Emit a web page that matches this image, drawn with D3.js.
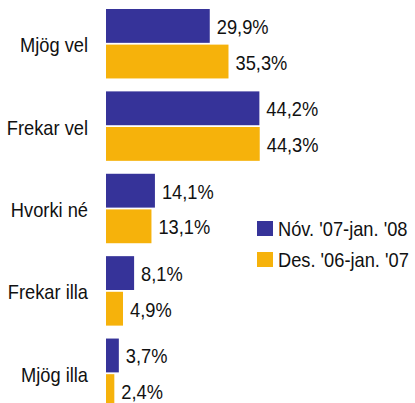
<!DOCTYPE html>
<html>
<head>
<meta charset="utf-8">
<script src="https://cdn.jsdelivr.net/npm/d3@7"></script>
<style>
	html, body { margin: 0; padding: 0; background: #FFFFFF; }
	#vis_container { width: 415px; height: 403px; overflow: hidden; }
	text { font-family: "Liberation Sans", Arial, sans-serif; fill: #111111; }
</style>
</head>
<body>
<div id="vis_container"></div>
<script>
	// categories, top to bottom
	var categories = ["Mjög vel", "Frekar vel", "Hvorki né", "Frekar illa", "Mjög illa"];
	var seriesNames = ["Nóv. '07-jan. '08", "Des. '06-jan. '07"];
	var seriesColors = ["#363399", "#F6B20B"];
	var values2008 = [29.9, 44.2, 14.1, 8.1, 3.7];
	var values2007 = [35.3, 44.3, 13.1, 4.9, 2.4];

	var chart = {};
	chart.width = 415;
	chart.height = 403;
	chart.textScale = 0.87;
	chart.fontSize = 21;

	var locale = d3.formatLocale({decimal: ",", thousands: ".", grouping: [3], currency: ["", " kr"]});
	var fmt = locale.format(".1f");

	chart.svg = d3.select("#vis_container").append("svg")
		.attr("width", chart.width)
		.attr("height", chart.height);

	chart.xScale = d3.scaleLinear()
		.domain([0, 50])
		.range([106, 106 + 50 * 3.47]);

	chart.yScale = d3.scaleBand()
		.domain(categories)
		.range([9, 408])
		.paddingInner(0.157)
		.paddingOuter(0);

	chart.innerScale = d3.scaleBand()
		.domain([0, 1])
		.range([0, chart.yScale.bandwidth()])
		.paddingInner(0.05);

	var rows = categories.map(function(c, i) {
		return {cat: c, vals: [values2008[i], values2007[i]]};
	});

	var group = chart.svg.selectAll(".group")
		.data(rows)
		.enter().append("g")
		.attr("class", "group")
		.attr("transform", function(d) { return "translate(0," + chart.yScale(d.cat) + ")"; });

	group.append("text")
		.attr("text-anchor", "end")
		.style("font-size", chart.fontSize + "px")
		.attr("transform", "translate(88," + (chart.yScale.bandwidth() / 2 + 8.5) + ") scale(" + chart.textScale + ",1)")
		.text(function(d) { return d.cat; });

	var bar = group.selectAll(".bar")
		.data(function(d) { return d.vals.map(function(v, j) { return {v: v, j: j}; }); })
		.enter().append("g")
		.attr("class", "bar");

	bar.append("rect")
		.attr("x", chart.xScale(0))
		.attr("y", function(d) { return chart.innerScale(d.j); })
		.attr("width", function(d) { return chart.xScale(d.v) - chart.xScale(0); })
		.attr("height", chart.innerScale.bandwidth())
		.attr("fill", function(d) { return seriesColors[d.j]; });

	bar.append("text")
		.style("font-size", chart.fontSize + "px")
		.attr("transform", function(d) {
			return "translate(" + (chart.xScale(d.v) + 7) + "," + (chart.innerScale(d.j) + chart.innerScale.bandwidth() / 2 + 8) + ") scale(" + chart.textScale + ",1)";
		})
		.text(function(d) { return fmt(d.v) + "%"; });

	// legend
	var legend = chart.svg.selectAll(".legend")
		.data(seriesNames)
		.enter().append("g")
		.attr("class", "legend")
		.attr("transform", function(d, i) { return "translate(257," + (221 + i * 31) + ")"; });

	legend.append("rect")
		.attr("width", 16)
		.attr("height", 15)
		.attr("fill", function(d, i) { return seriesColors[i]; });

	legend.append("text")
		.style("font-size", chart.fontSize + "px")
		.attr("transform", "translate(21,14.5) scale(" + chart.textScale + ",1)")
		.text(function(d) { return d; });
</script>
</body>
</html>
